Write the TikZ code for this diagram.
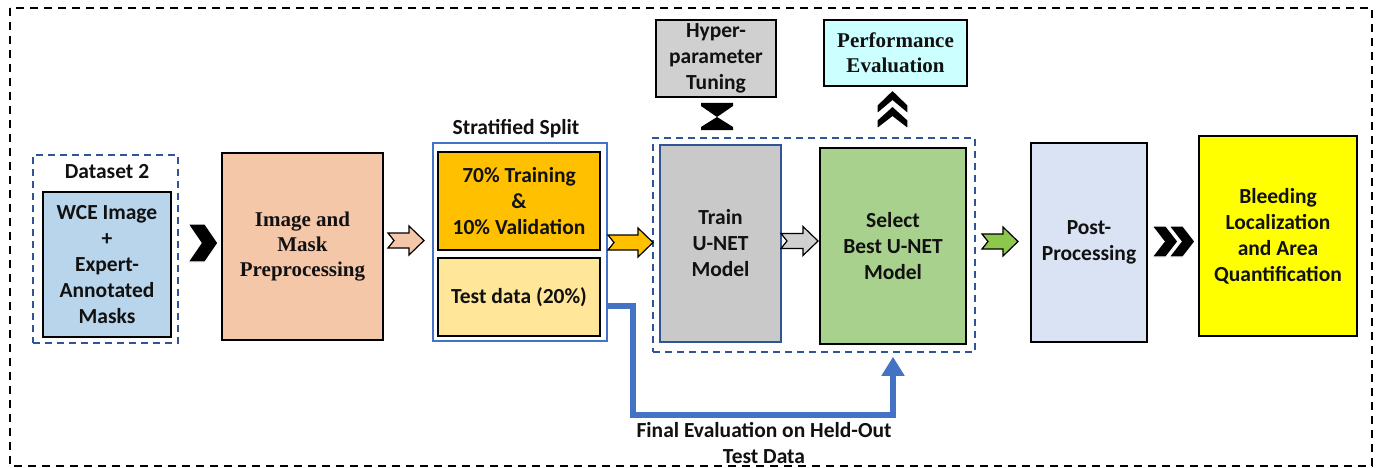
\documentclass[tikz,border=0pt]{standalone}
\usepackage{fontspec}
\setmainfont{Carlito}
\newfontfamily\tnr{Liberation Serif}
\usetikzlibrary{arrows.meta,calc}
\definecolor{wceblue}{HTML}{B8D5EC}
\definecolor{peach}{HTML}{F5C7A9}
\definecolor{amber}{HTML}{FFC000}
\definecolor{lightyel}{HTML}{FFE699}
\definecolor{midgray}{HTML}{C9C9C9}
\definecolor{hypgray}{HTML}{D0D0D0}
\definecolor{selgreen}{HTML}{A9D18E}
\definecolor{postblue}{HTML}{DAE3F3}
\definecolor{brightyel}{HTML}{FFFF00}
\definecolor{perfcyan}{HTML}{CCFFFF}
\definecolor{dashblue}{HTML}{2F5597}
\definecolor{connblue}{HTML}{4472C4}
\definecolor{arrgreen}{HTML}{8CC84B}
\definecolor{txt}{HTML}{111111}
\begin{document}
\begin{tikzpicture}[x=1pt,y=-1pt,
  box/.style={draw=black,line width=1.8pt,inner sep=0pt,align=center,text=txt,
    font=\bfseries\fontsize{21.5}{26}\selectfont},
  sbox/.style={box,font=\tnr\bfseries\fontsize{21}{25}\selectfont},
  grpbox/.style={draw=dashblue,line width=1.6pt,dash pattern=on 7pt off 5pt,inner sep=0pt},
  lbl/.style={align=center,text=txt,inner sep=0pt,font=\bfseries\fontsize{21.5}{26}\selectfont},
  conn/.style={draw=connblue,line width=6pt,line join=miter,
    -{Triangle[width=22pt,length=19pt]}},
  blk/.style={fill=black,draw=white,line width=1.2pt,line join=miter},
  pics/notch/.style={code={
    \path[pic actions] (0,-7.5) -- (#1-15,-7.5) -- (#1-15,-14.5) -- (#1,0)
      -- (#1-15,14.5) -- (#1-15,7.5) -- (0,7.5) -- (6,0) -- cycle;}},
]
\useasboundingbox (0,0) rectangle (1380,468);
\draw[black,line width=1.5pt,dash pattern=on 8pt off 6pt] (10,8) rectangle (1372,466);

% dataset
\node[grpbox,minimum width=145pt,minimum height=188pt] (ds) at (105.5,249) {};
\node[lbl] (dslbl) at (107,172) {Dataset 2};
\node[box,fill=wceblue,minimum width=128pt,minimum height=145pt] (wce) at (107,264.5)
  {WCE Image\\+\\Expert-\\Annotated\\Masks};

% preprocessing
\node[sbox,fill=peach,minimum width=161pt,minimum height=187pt] (pre) at (302.5,246.5)
  {Image and\\Mask\\Preprocessing};

% split
\node[lbl] (splbl) at (516,129) {Stratified Split};
\node[draw=connblue,line width=1.4pt,minimum width=174pt,minimum height=198pt,inner sep=0pt] (split) at (520,242) {};
\node[box,fill=amber,minimum width=162pt,minimum height=98pt] (trn) at (519,201)
  {70\% Training\\\&\\10\% Validation};
\node[box,fill=lightyel,minimum width=162pt,minimum height=78pt] (tst) at (519,297)
  {Test data (20\%)};

% model group
\node[grpbox,minimum width=322pt,minimum height=214pt] (grp) at (814,245) {};
\node[box,draw=dashblue,line width=1.4pt,fill=midgray,minimum width=121pt,minimum height=197pt] (train) at (720.5,243.5)
  {Train\\U-NET\\Model};
\node[box,fill=selgreen,minimum width=146pt,minimum height=196pt] (sel) at (893,246)
  {Select\\Best U-NET\\Model};

% top boxes
\node[box,fill=hypgray,minimum width=120pt,minimum height=77pt] (hyp) at (716,58.5)
  {Hyper-\\parameter\\Tuning};
\node[sbox,fill=perfcyan,minimum width=143pt,minimum height=66pt] (perf) at (895.5,53)
  {Performance\\Evaluation};

% post / bleeding
\node[box,fill=postblue,minimum width=116pt,minimum height=199pt] (post) at (1089,242.5)
  {Post-\\Processing};
\node[box,fill=brightyel,minimum width=158pt,minimum height=200pt] (bleed) at (1278,236)
  {Bleeding\\Localization\\and Area\\Quantification};

% block arrows
\path[blk] (188,224) -- (205,224) -- (218,243) -- (205,262) -- (188,262) -- (201,243) -- cycle;
\pic[fill=peach,draw=black,line width=1.2pt] at (388,240.5) {notch=36};
\pic[fill=amber,draw=black,line width=1.2pt] at (608,242.5) {notch=45};
\pic[fill=hypgray,draw=black,line width=1.2pt] at (781,241) {notch=37};
\pic[fill=arrgreen,draw=black,line width=1.2pt] at (982,241.5) {notch=36};
\path[blk] (1152,226) -- (1166,226) -- (1178,241.5) -- (1166,257) -- (1152,257) -- (1164,241.5) -- cycle;
\path[blk] (1169,226) -- (1183,226) -- (1195,241.5) -- (1183,257) -- (1169,257) -- (1181,241.5) -- cycle;
% hourglass
\path[fill=black] (701,103) -- (733,103) -- (733,106) -- (717,117) -- (701,106) -- cycle;
\path[fill=black] (717,117) -- (733,127) -- (733,130) -- (701,130) -- (701,127) -- cycle;
% up double chevron
\path[blk] (877,105) -- (892.5,90) -- (908,105) -- (908,114) -- (892.5,101) -- (877,114) -- cycle;
\path[blk] (877,120) -- (892.5,106) -- (908,120) -- (908,129) -- (892.5,117) -- (877,129) -- cycle;

% held-out connector
\draw[conn,shorten >=4pt] (split.east |- 0,306) -- (633,306) -- (633,415)
  -- (sel.south |- 0,415) -- (sel.south |- grp.south);
\node[lbl] (felbl) at (764,443) {Final Evaluation on Held-Out\\Test Data};
\end{tikzpicture}
\end{document}
